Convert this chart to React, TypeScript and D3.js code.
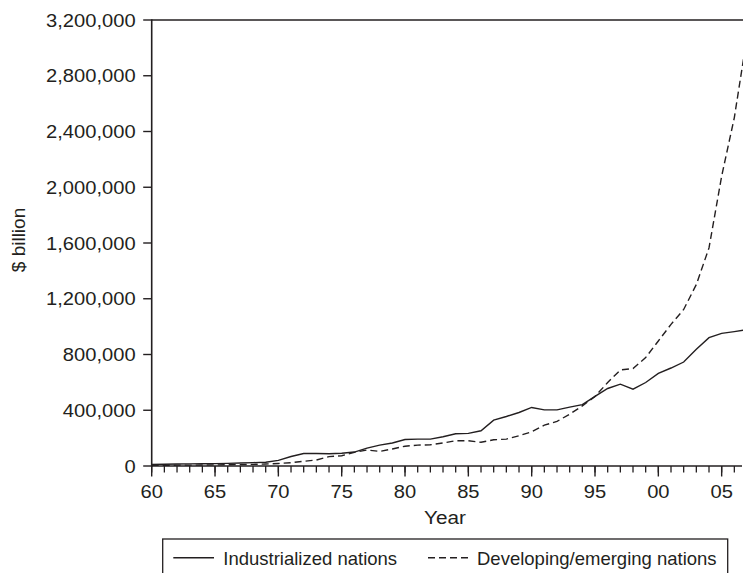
import React from "react";
import * as d3 from "d3";

const years: number[] = [
  1960, 1961, 1962, 1963, 1964, 1965, 1966, 1967, 1968, 1969,
  1970, 1971, 1972, 1973, 1974, 1975, 1976, 1977, 1978, 1979,
  1980, 1981, 1982, 1983, 1984, 1985, 1986, 1987, 1988, 1989,
  1990, 1991, 1992, 1993, 1994, 1995, 1996, 1997, 1998, 1999,
  2000, 2001, 2002, 2003, 2004, 2005, 2006, 2007,
];

const industrialized: number[] = [
  12000, 13000, 14000, 15000, 16000, 17000, 19000, 21000, 24000, 27000,
  40000, 68000, 90000, 90000, 88000, 92000, 100000, 128000, 150000, 165000,
  190000, 193000, 193000, 210000, 231000, 234000, 253000, 329000, 355000, 384000,
  420000, 403000, 403000, 422000, 440000, 499000, 556000, 587000, 551000, 599000,
  665000, 703000, 746000, 837000, 921000, 952000, 964000, 978000,
];

const developing: number[] = [
  5000, 5000, 6000, 6000, 7000, 8000, 9000, 10000, 12000, 14000,
  18000, 24000, 34000, 43000, 67000, 74000, 98000, 115000, 105000, 122000,
  142000, 150000, 152000, 165000, 181000, 181000, 170000, 188000, 193000, 217000,
  245000, 293000, 320000, 372000, 431000, 499000, 599000, 689000, 699000, 778000,
  897000, 1016000, 1123000, 1302000, 1565000, 2080000, 2500000, 3080000,
];

const yTicks: number[] = [0, 400000, 800000, 1200000, 1600000, 2000000, 2400000, 2800000, 3200000];
const xMajorTicks: number[] = [1960, 1965, 1970, 1975, 1980, 1985, 1990, 1995, 2000, 2005];
const xMinorTicks: number[] = d3.range(1960, 2008);
const seriesNames: string[] = ["Industrialized nations", "Developing/emerging nations"];
const yLabel = "$ billion";
const xLabel = "Year";

const W = 743;
const H = 573;
const FONT = "'Liberation Sans', Arial, Helvetica, sans-serif";
const INK = "#231f20";

export default function App() {
  const x = d3.scaleLinear().domain([1960, 2007]).range([151.7, 747]);
  const y = d3.scaleLinear().domain([0, 3200000]).range([466, 20]);
  const fmt = d3.format(",");
  const xFmt = (v: number) => String(v % 100).padStart(2, "0");

  const line = d3
    .line<number>()
    .x((_, i) => x(years[i]))
    .y((d) => y(d));

  const plotLeft = x(1960);
  const plotBottom = y(0);
  const stretch = 1.12;

  return (
    <svg
      width={W}
      height={H}
      style={{ position: "absolute", left: 0, top: 0, background: "#fff" }}
      fontFamily={FONT}
    >
      <defs>
        <clipPath id="plotclip">
          <rect x={plotLeft} y={0} width={W - plotLeft} height={plotBottom + 2} />
        </clipPath>
      </defs>

      {/* lines */}
      <g clipPath="url(#plotclip)">
        <path d={line(industrialized) || ""} fill="none" stroke={INK} strokeWidth={1.4} />
        <path
          d={line(developing) || ""}
          fill="none"
          stroke={INK}
          strokeWidth={1.4}
          strokeDasharray="7,4"
        />
      </g>

      {/* top border */}
      <line x1={plotLeft} x2={W} y1={y(3200000)} y2={y(3200000)} stroke={INK} strokeWidth={1.6} />

      {/* y axis */}
      <line x1={plotLeft} x2={plotLeft} y1={y(3200000) - 0.8} y2={plotBottom + 0.8} stroke={INK} strokeWidth={1.6} />
      {yTicks.map((t) => (
        <g key={t}>
          <line x1={plotLeft - 8.5} x2={plotLeft} y1={y(t)} y2={y(t)} stroke={INK} strokeWidth={1.4} />
          <text
            transform={`translate(${plotLeft - 16},${y(t) + 6.6}) scale(${stretch},1)`}
            textAnchor="end"
            fontSize={18}
            fill={INK}
          >
            {fmt(t)}
          </text>
        </g>
      ))}

      {/* x axis */}
      <line x1={plotLeft} x2={742} y1={plotBottom} y2={plotBottom} stroke={INK} strokeWidth={1.6} />
      {xMinorTicks.map((t) => (
        <line
          key={"m" + t}
          x1={x(t)}
          x2={x(t)}
          y1={plotBottom}
          y2={plotBottom + 6.5}
          stroke={INK}
          strokeWidth={1.3}
        />
      ))}
      {xMajorTicks.map((t) => (
        <g key={"M" + t}>
          <line x1={x(t)} x2={x(t)} y1={plotBottom} y2={plotBottom + 10.5} stroke={INK} strokeWidth={1.4} />
          <text
            transform={`translate(${x(t)},${plotBottom + 32}) scale(${stretch},1)`}
            textAnchor="middle"
            fontSize={18}
            fill={INK}
          >
            {xFmt(t)}
          </text>
        </g>
      ))}

      {/* axis titles */}
      <text
        transform={`translate(${445},${524}) scale(${stretch},1)`}
        textAnchor="middle"
        fontSize={18.5}
        fill={INK}
      >
        {xLabel}
      </text>
      <text
        transform={`translate(25,240) rotate(-90)`}
        textAnchor="middle"
        fontSize={19}
        fill={INK}
      >
        {yLabel}
      </text>

      {/* legend */}
      <rect x={162.7} y={539} width={565} height={60} fill="none" stroke={INK} strokeWidth={1.3} />
      <line x1={173.3} x2={214} y1={557.7} y2={557.7} stroke={INK} strokeWidth={1.4} />
      <text x={223.3} y={565} fontSize={18.5} fill={INK}>
        {seriesNames[0]}
      </text>
      <line x1={428} x2={468} y1={557.7} y2={557.7} stroke={INK} strokeWidth={1.4} strokeDasharray="7,4" />
      <text x={477} y={565} fontSize={18.5} fill={INK}>
        {seriesNames[1]}
      </text>
    </svg>
  );
}
